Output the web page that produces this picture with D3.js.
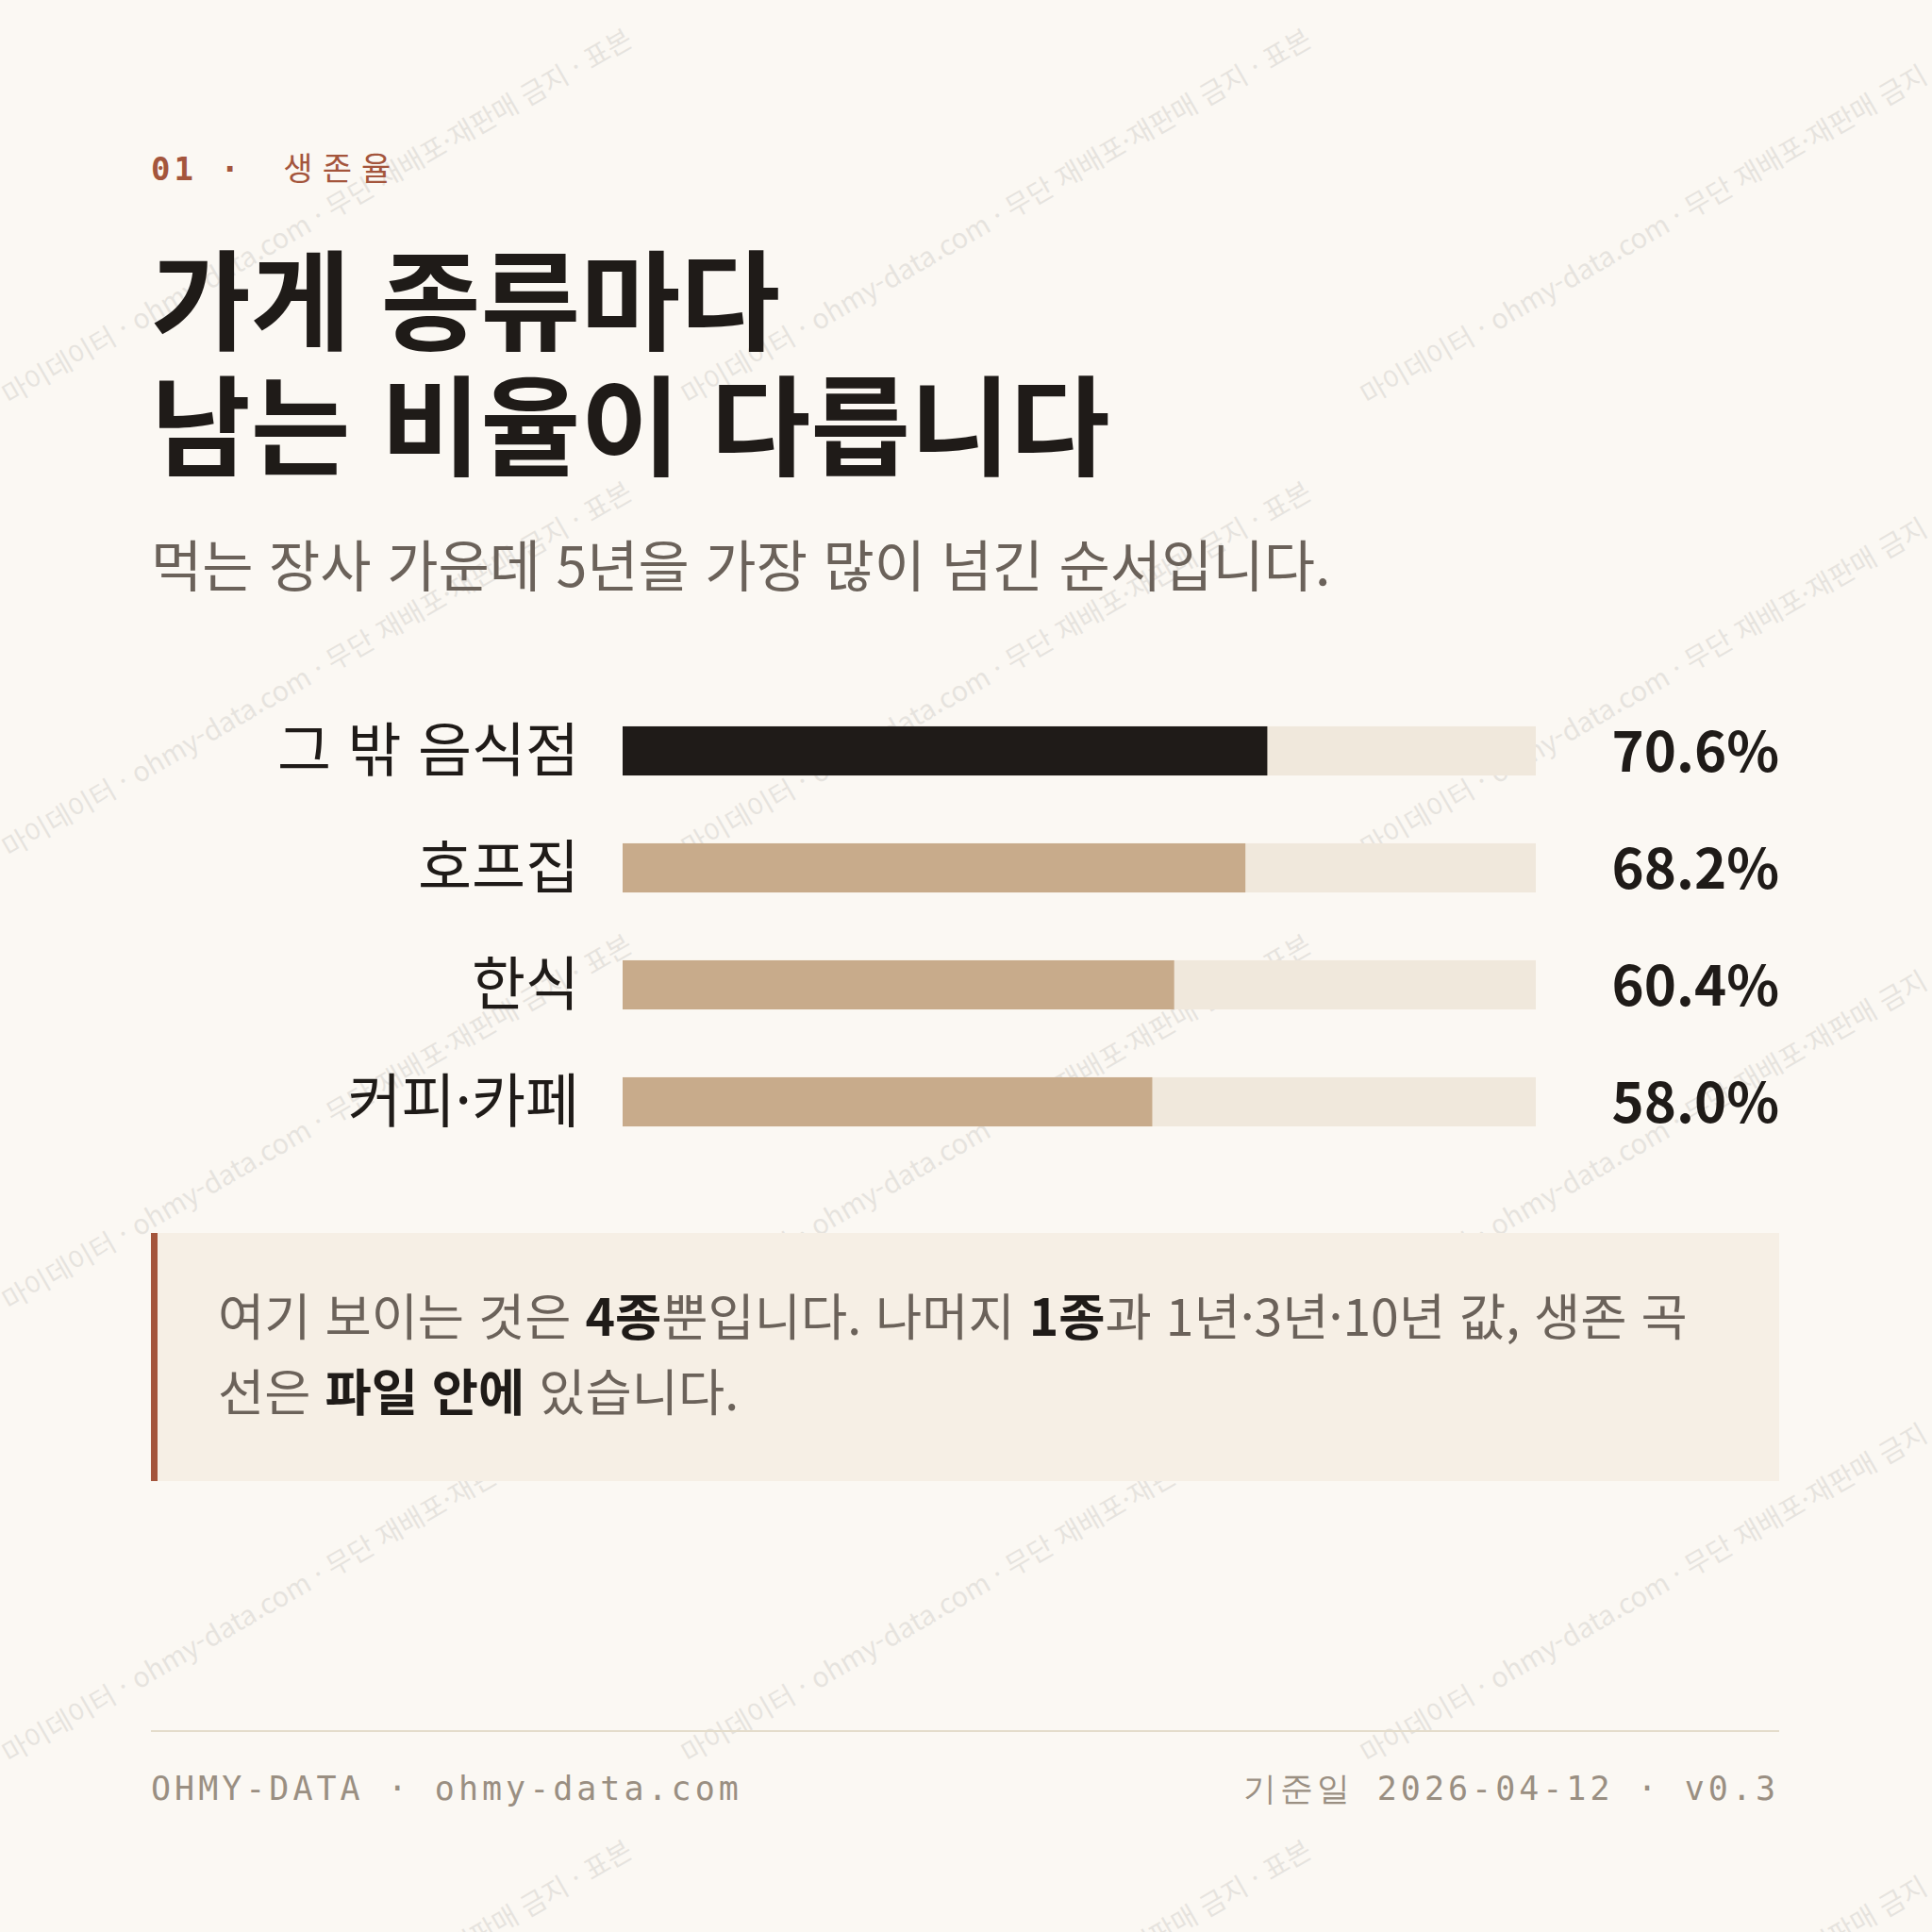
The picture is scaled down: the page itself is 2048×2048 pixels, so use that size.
<!DOCTYPE html>
<html lang="ko">
<head>
<meta charset="UTF-8">
<title>생존율</title>
<script src="https://cdn.jsdelivr.net/npm/d3@7"></script>
<style>
  body { margin: 0; background: #fbf8f3; }
  svg { display: block; }
</style>
</head>
<body>
<svg id="chart" width="2048" height="2048"></svg>
<script>
const categories = ["그 밖 음식점", "호프집", "한식", "커피·카페"]
const values = [70.6, 68.2, 60.4, 58.0]
const valueLabels = ["70.6%", "68.2%", "60.4%", "58.0%"]

const sans = "'Noto Sans CJK KR', 'Noto Sans', sans-serif"
const mono = "'DejaVu Sans Mono', 'Liberation Mono', monospace"

const svg = d3.select('#chart')
svg.append('rect').attr('width', 2048).attr('height', 2048).attr('fill', '#fbf8f3')

// watermark (behind content)
const wm = svg.append('g').attr('pointer-events', 'none')
const wmText = '마이데이터 · ohmy-data.com · 무단 재배포·재판매 금지 · 표본'
for (let r = -1; r < 6; r++) {
  for (let c = 0; c < 4; c++) {
    const cx = c * 720 + 10
    const cy = r * 480 + 430
    wm.append('text').attr('transform', `translate(${cx},${cy}) rotate(-30)`)
      .attr('font-family', sans).attr('font-size', 29).attr('fill', '#1f1b18').attr('opacity', 0.09)
      .text(wmText)
  }
}

// header
svg.append('text').attr('x', 160).attr('y', 191)
  .attr('font-family', mono).attr('font-size', 34).attr('font-weight', 'bold')
  .attr('fill', '#a4553c').attr('letter-spacing', 4)
  .text('01 · ')
  .append('tspan').attr('font-family', sans).attr('font-weight', 'normal').attr('dx', 18)
  .attr('letter-spacing', 10).text('생존율')

svg.append('text').attr('x', 160).attr('y', 362)
  .attr('font-family', sans).attr('font-size', 115).attr('font-weight', 'bold').attr('fill', '#1f1b18')
  .text('가게 종류마다')
svg.append('text').attr('x', 160).attr('y', 495)
  .attr('font-family', sans).attr('font-size', 115).attr('font-weight', 'bold').attr('fill', '#1f1b18')
  .text('남는 비율이 다릅니다')

svg.append('text').attr('x', 160).attr('y', 622)
  .attr('font-family', sans).attr('font-size', 59).attr('fill', '#6b625a')
  .text('먹는 장사 가운데 5년을 가장 많이 넘긴 순서입니다.')

// bars
const x = d3.scaleLinear().domain([0, 100]).range([660, 1628])
const y = d3.scaleBand().domain(categories).range([734, 1230]).paddingInner(0.58).paddingOuter(0.29)

const rows = svg.append('g').selectAll('g').data(categories).join('g')
rows.append('rect').attr('x', x(0)).attr('y', d => y(d))
  .attr('width', x(100) - x(0)).attr('height', y.bandwidth()).attr('fill', '#f0e8dc')
rows.append('rect').attr('x', x(0)).attr('y', d => y(d))
  .attr('width', (d, i) => x(values[i]) - x(0)).attr('height', y.bandwidth())
  .attr('fill', (d, i) => i === 0 ? '#1f1b18' : '#c8ab8b')
rows.append('text').attr('x', 614).attr('y', d => y(d) + y.bandwidth() / 2)
  .attr('dy', '0.36em').attr('text-anchor', 'end')
  .attr('font-family', sans).attr('font-size', 62).attr('fill', '#1f1b18')
  .text(d => d)
rows.append('text').attr('x', 1886).attr('y', d => y(d) + y.bandwidth() / 2)
  .attr('dy', '0.38em').attr('text-anchor', 'end')
  .attr('font-family', sans).attr('font-size', 58).attr('font-weight', 'bold').attr('fill', '#1f1b18')
  .text((d, i) => valueLabels[i])

// callout
svg.append('rect').attr('x', 160).attr('y', 1307).attr('width', 1726).attr('height', 263).attr('fill', '#f6efe5')
svg.append('rect').attr('x', 160).attr('y', 1307).attr('width', 7).attr('height', 263).attr('fill', '#a4553c')
const note = [
  [['여기 보이는 것은 ', 0], ['4종', 1], ['뿐입니다. 나머지 ', 0], ['1종', 1], ['과 1년·3년·10년 값, 생존 곡', 0]],
  [['선은 ', 0], ['파일 안에', 1], [' 있습니다.', 0]]
]
note.forEach((line, li) => {
  const t = svg.append('text').attr('x', 231).attr('y', 1416 + li * 80)
    .attr('font-family', sans).attr('font-size', 53.5).attr('fill', '#6b625a')
  line.forEach(([s, b]) => t.append('tspan').text(s)
    .attr('font-weight', b ? 'bold' : 'normal').attr('fill', b ? '#1f1b18' : '#6b625a'))
})

// footer
svg.append('line').attr('x1', 160).attr('x2', 1886).attr('y1', 1835).attr('y2', 1835)
  .attr('stroke', '#e4dccb').attr('stroke-width', 2)
svg.append('text').attr('x', 160).attr('y', 1908)
  .attr('font-family', mono).attr('font-size', 35).attr('fill', '#9a8f82').attr('letter-spacing', 4)
  .text('OHMY-DATA · ohmy-data.com')
svg.append('text').attr('x', 1886).attr('y', 1908).attr('text-anchor', 'end')
  .attr('font-family', mono).attr('font-size', 35).attr('fill', '#9a8f82').attr('letter-spacing', 4)
  .text('기준일 2026-04-12 · v0.3')
</script>
</body>
</html>
